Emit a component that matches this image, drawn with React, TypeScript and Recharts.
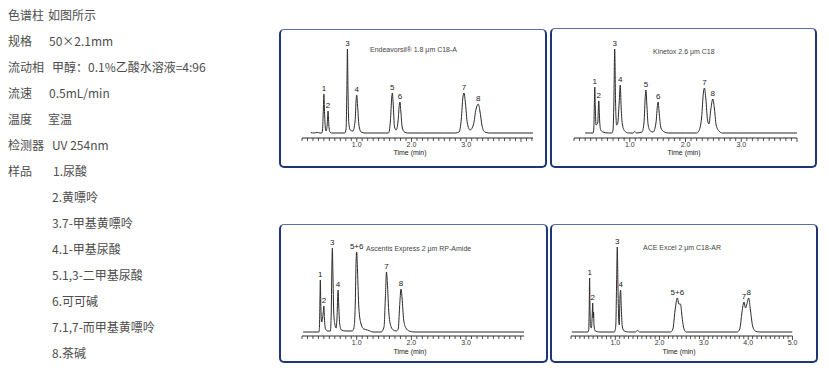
import React from "react";
import { LineChart, Line, XAxis, YAxis, ReferenceDot } from "recharts";

// ---------------- Left info text ----------------
const INFO_LABELS = ["色谱柱", "规格", "流动相", "流速", "温度", "检测器", "样品", "", "", "", "", "", "", ""];
const INFO_VALUES = [
  "如图所示",
  "50×2.1mm",
  "甲醇：0.1%乙酸水溶液=4:96",
  "0.5mL/min",
  "室温",
  "UV 254nm",
  "1.尿酸",
  "2.黄嘌呤",
  "3.7-甲基黄嘌呤",
  "4.1-甲基尿酸",
  "5.1,3-二甲基尿酸",
  "6.可可碱",
  "7.1,7-而甲基黄嘌呤",
  "8.茶碱",
];

// ---------------- Axis ticks ----------------
const MINOR_TICKS = [
  0, 0.1, 0.2, 0.3, 0.4, 0.5, 0.6, 0.7, 0.8, 0.9,
  1.0, 1.1, 1.2, 1.3, 1.4, 1.5, 1.6, 1.7, 1.8, 1.9,
  2.0, 2.1, 2.2, 2.3, 2.4, 2.5, 2.6, 2.7, 2.8, 2.9,
  3.0, 3.1, 3.2, 3.3, 3.4, 3.5, 3.6, 3.7, 3.8, 3.9,
  4.0, 4.1, 4.2, 4.3, 4.4, 4.5, 4.6, 4.7, 4.8, 4.9, 5.0,
];
const MAJOR_TICK_VALUES = [1, 2, 3, 4, 5];
const MAJOR_TICK_LABELS = ["1.0", "2.0", "3.0", "4.0", "5.0"];
const AXIS_TITLE = "Time (min)";

// ---------------- Panel titles & axis ranges ----------------
const TITLES = [
  "Endeavorsil® 1.8 μm C18-A",
  "Kinetox 2.6 μm C18",
  "Ascentis Express 2 μm RP-Amide",
  "ACE Excel 2 μm C18-AR",
];
const AXIS_MAX = [4.22, 4.0, 4.06, 5.0];
const LABELED_MAJORS = [3, 3, 3, 5];

// ---------------- Traces: [time (min), signal] ----------------
const TRACE_ENDEAVORSIL: [number, number][] = [
  [0.16, 0.5], [0.22, 0], [0.28, 0.6], [0.33, 0], [0.36, 0],
  [0.375, 3], [0.39, 24], [0.40, 39], [0.41, 24], [0.425, 6], [0.44, 2],
  [0.46, 8], [0.476, 22], [0.49, 8], [0.51, 1], [0.54, 0],
  [0.78, 0], [0.805, 4], [0.82, 45], [0.83, 84], [0.84, 45], [0.855, 10], [0.88, 3],
  [0.93, 2], [0.97, 12], [0.99, 34], [1.0, 38], [1.015, 28], [1.04, 8], [1.08, 1], [1.15, 0],
  [1.3, 0], [1.5, 0],
  [1.58, 0], [1.615, 12], [1.64, 36], [1.65, 40], [1.665, 30], [1.69, 6], [1.72, 3],
  [1.755, 12], [1.78, 29], [1.79, 31], [1.805, 22], [1.83, 6], [1.87, 1], [1.93, 0],
  [2.2, 0], [2.6, 0], [2.8, 0],
  [2.87, 1], [2.91, 14], [2.94, 36], [2.96, 40], [2.985, 30], [3.02, 10], [3.07, 3],
  [3.13, 8], [3.18, 24], [3.22, 29], [3.25, 22], [3.29, 7], [3.34, 1], [3.42, 0],
  [3.6, 0], [4.22, 0],
];

const TRACE_KINETEX: [number, number][] = [
  [0.2, 0], [0.3, 0], [0.34, 0],
  [0.355, 4], [0.365, 28], [0.373, 46], [0.382, 26], [0.395, 8],
  [0.425, 10], [0.445, 32], [0.46, 12], [0.48, 3], [0.52, 1], [0.62, 0], [0.68, 0],
  [0.70, 3], [0.715, 30], [0.73, 84], [0.745, 32], [0.765, 8], [0.785, 10],
  [0.81, 30], [0.83, 48], [0.845, 26], [0.87, 8], [0.91, 2], [0.98, 0],
  [1.06, 0], [1.09, 1.5], [1.12, 0],
  [1.22, 1], [1.255, 10], [1.28, 38], [1.29, 43], [1.305, 30], [1.33, 8], [1.37, 2], [1.42, 1],
  [1.47, 10], [1.50, 29], [1.51, 31], [1.525, 22], [1.56, 5], [1.62, 1], [1.7, 0],
  [2.0, 0], [2.2, 0],
  [2.24, 2], [2.29, 16], [2.32, 40], [2.34, 45], [2.365, 34], [2.395, 13], [2.42, 9],
  [2.455, 24], [2.49, 34], [2.515, 26], [2.55, 8], [2.6, 2], [2.66, 0],
  [3.0, 0], [4.0, 0],
];

const TRACE_ASCENTIS: [number, number][] = [
  [0.02, 0], [0.2, 0], [0.31, 0],
  [0.32, 6], [0.328, 30], [0.335, 52], [0.345, 24], [0.36, 10],
  [0.385, 18], [0.40, 26], [0.41, 14], [0.43, 3], [0.47, 1], [0.52, 1],
  [0.535, 20], [0.548, 70], [0.555, 84], [0.565, 60], [0.58, 20], [0.60, 8], [0.625, 4],
  [0.64, 14], [0.655, 38], [0.66, 42], [0.672, 26], [0.69, 8], [0.72, 2], [0.8, 1], [0.92, 1],
  [0.95, 4], [0.975, 30], [0.99, 72], [1.0, 80], [1.015, 62], [1.04, 24], [1.08, 8], [1.13, 3], [1.2, 2], [1.3, 0],
  [1.45, 0], [1.5, 5], [1.525, 35], [1.545, 60], [1.56, 50], [1.59, 18], [1.63, 5], [1.67, 2], [1.72, 1],
  [1.76, 3], [1.785, 25], [1.81, 43], [1.83, 34], [1.86, 12], [1.9, 4], [1.96, 1], [2.05, 0],
  [3.0, 0], [4.06, 0],
];

const TRACE_ACE: [number, number][] = [
  [0.02, 0], [0.3, 0], [0.38, 0], [0.40, 2],
  [0.41, 20], [0.42, 54], [0.43, 20], [0.44, 6], [0.46, 4],
  [0.48, 18], [0.49, 29], [0.50, 14], [0.51, 20], [0.52, 6], [0.55, 1], [0.65, 0],
  [0.98, 0], [1.01, 6], [1.03, 50], [1.045, 85], [1.06, 45], [1.08, 10], [1.09, 7],
  [1.105, 35], [1.12, 42], [1.135, 24], [1.16, 5], [1.2, 1], [1.3, 0],
  [1.45, 0], [1.5, 1.5], [1.55, 0],
  [2.25, 0], [2.3, 3], [2.35, 22], [2.40, 34], [2.435, 28], [2.47, 28], [2.51, 14], [2.55, 3], [2.6, 0],
  [3.75, 0], [3.81, 3], [3.86, 20], [3.905, 30], [3.94, 24], [3.97, 28], [4.01, 34], [4.05, 22], [4.1, 6], [4.16, 1], [4.25, 0],
  [5.0, 0],
];

// ---------------- Peak labels: [label, time, apex signal] ----------------
const PEAKS_ENDEAVORSIL: [string, number, number][] = [
  ["1", 0.40, 39], ["2", 0.476, 22], ["3", 0.83, 84], ["4", 1.0, 38],
  ["5", 1.65, 40], ["6", 1.79, 31], ["7", 2.96, 40], ["8", 3.22, 29],
];
const PEAKS_KINETEX: [string, number, number][] = [
  ["1", 0.373, 46], ["2", 0.445, 32], ["3", 0.73, 84], ["4", 0.83, 48],
  ["5", 1.29, 43], ["6", 1.51, 31], ["7", 2.34, 45], ["8", 2.49, 34],
];
const PEAKS_ASCENTIS: [string, number, number][] = [
  ["1", 0.335, 52], ["2", 0.40, 26], ["3", 0.555, 84], ["4", 0.66, 42],
  ["5+6", 1.0, 80], ["7", 1.545, 60], ["8", 1.81, 43],
];
const PEAKS_ACE: [string, number, number][] = [
  ["1", 0.42, 54], ["2", 0.49, 29], ["3", 1.045, 85], ["4", 1.12, 42],
  ["5+6", 2.40, 34], ["7", 3.905, 30], ["8", 4.01, 34],
];

// ---------------- Layout (positions only) ----------------
type Layout = {
  left: number; top: number; width: number; height: number;
  margin: { top: number; right: number; bottom: number; left: number };
  axisH: number; yMin: number; yMax: number;
  titleX: number; titleY: number; timeX: number; timeY: number;
};

const LAYOUTS: Layout[] = [
  { left: 279, top: 29, width: 268, height: 139, margin: { top: 14, right: 14, bottom: 0, left: 23 }, axisH: 30, yMin: -5, yMax: 90, titleX: 370, titleY: 50, timeX: 410, timeY: 153 },
  { left: 550, top: 28, width: 267, height: 140, margin: { top: 15, right: 20, bottom: 0, left: 24 }, axisH: 30, yMin: -5, yMax: 90, titleX: 653, titleY: 52, timeX: 684, timeY: 153 },
  { left: 279, top: 224, width: 269, height: 139, margin: { top: 18, right: 24, bottom: 0, left: 23 }, axisH: 27, yMin: -4, yMax: 90, titleX: 366, titleY: 249, timeX: 410, timeY: 352 },
  { left: 550, top: 224, width: 268, height: 139, margin: { top: 18, right: 25.5, bottom: 0, left: 21 }, axisH: 27, yMin: -4, yMax: 90, titleX: 643, titleY: 248, timeX: 679, timeY: 352 },
];

const TRACES = [TRACE_ENDEAVORSIL, TRACE_KINETEX, TRACE_ASCENTIS, TRACE_ACE];
const PEAKS = [PEAKS_ENDEAVORSIL, PEAKS_KINETEX, PEAKS_ASCENTIS, PEAKS_ACE];

const CHART_FONT = "'Liberation Sans', Arial, sans-serif";
const INK = "#2a2a2a";

const makeTick = (labeled: number) => (props: any) => {
  const { x, y, payload } = props;
  const v = payload.value as number;
  const idx = MAJOR_TICK_VALUES.findIndex((m) => Math.abs(m - v) < 1e-6);
  const isMajor = idx >= 0;
  const showLabel = isMajor && idx < labeled;
  return (
    <g>
      <line x1={x} x2={x} y1={y} y2={y + (isMajor ? 4 : 3)} stroke={INK} strokeWidth={0.8} />
      {showLabel && (
        <text x={x} y={y + 9} textAnchor="middle" fontSize={7} fill="#333" fontFamily={CHART_FONT}>
          {MAJOR_TICK_LABELS[idx]}
        </text>
      )}
    </g>
  );
};

function Chromatogram({ index }: { index: number }) {
  const L = LAYOUTS[index];
  const max = AXIS_MAX[index];
  const data = TRACES[index].map(([t, v]) => ({ t, v }));
  const peaks = PEAKS[index];
  const ticks = MINOR_TICKS.filter((v) => v <= max + 1e-9);
  return (
    <>
      <div
        style={{
          position: "absolute",
          left: L.left,
          top: L.top,
          width: L.width,
          height: L.height,
          boxSizing: "border-box",
          border: "2px solid #1f3676",
          borderTop: "1px solid #5b70a8",
          borderRadius: 5,
          background: "#fff",
        }}
      />
      <div style={{ position: "absolute", left: L.left, top: L.top }}>
        <LineChart width={L.width} height={L.height} data={data} margin={L.margin}>
          <XAxis
            type="number"
            dataKey="t"
            domain={[0, max]}
            allowDataOverflow
            ticks={ticks}
            interval={0}
            tickSize={0}
            tickMargin={0}
            tickLine={false}
            height={L.axisH}
            axisLine={{ stroke: INK, strokeWidth: 1 }}
            tick={makeTick(LABELED_MAJORS[index])}
          />
          <YAxis hide type="number" domain={[L.yMin, L.yMax]} allowDataOverflow />
          <Line
            type="monotone"
            dataKey="v"
            stroke={INK}
            strokeWidth={1}
            dot={false}
            activeDot={false}
            isAnimationActive={false}
          />
          {peaks.map(([label, t, v]) => (
            <ReferenceDot
              key={label + t}
              x={t}
              y={v}
              r={0}
              stroke="none"
              fill="none"
              label={{ value: label, position: "top", offset: 3, fontSize: 8, fill: "#222", fontFamily: CHART_FONT }}
            />
          ))}
        </LineChart>
      </div>
      <div
        style={{
          position: "absolute",
          left: L.titleX,
          top: L.titleY - 5,
          height: 10,
          lineHeight: "10px",
          fontSize: 7,
          fontFamily: CHART_FONT,
          color: "#444",
          whiteSpace: "nowrap",
        }}
      >
        {TITLES[index]}
      </div>
      <div
        style={{
          position: "absolute",
          left: L.timeX - 30,
          width: 60,
          top: L.timeY - 5,
          height: 10,
          lineHeight: "10px",
          fontSize: 7,
          fontFamily: CHART_FONT,
          color: "#222",
          textAlign: "center",
          whiteSpace: "nowrap",
        }}
      >
        {AXIS_TITLE}
      </div>
    </>
  );
}

const VALUE_X = [48, 49, 52, 49, 48, 52, 53, 52, 52, 52, 52, 52, 52, 52];

export default function App() {
  return (
    <div
      style={{
        position: "absolute",
        left: 0,
        top: 0,
        width: 829,
        height: 371,
        background: "#fff",
        overflow: "hidden",
      }}
    >
      {INFO_VALUES.map((val, i) => {
        const cy = 15 + 26 * i;
        const common: React.CSSProperties = {
          position: "absolute",
          top: cy - 9,
          height: 18,
          lineHeight: "18px",
          fontSize: 12,
          fontFamily: "'Noto Sans CJK SC', 'Noto Sans', sans-serif",
          color: "#4d4d4d",
          whiteSpace: "nowrap",
        };
        return (
          <React.Fragment key={i}>
            {INFO_LABELS[i] && <div style={{ ...common, left: 8 }}>{INFO_LABELS[i]}</div>}
            <div style={{ ...common, left: VALUE_X[i] }}>{val}</div>
          </React.Fragment>
        );
      })}
      {[0, 1, 2, 3].map((i) => (
        <Chromatogram key={i} index={i} />
      ))}
    </div>
  );
}
